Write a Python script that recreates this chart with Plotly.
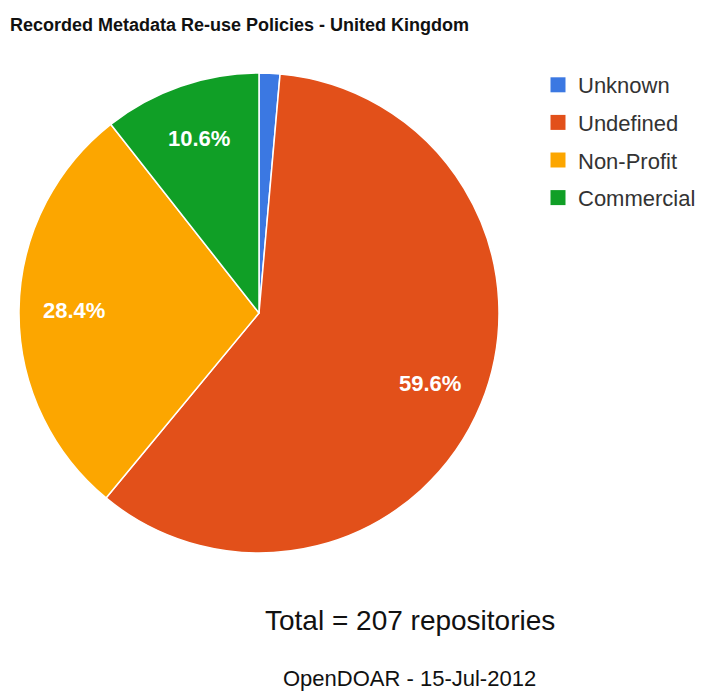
import math
import plotly.graph_objects as go

labels = ["Unknown", "Undefined", "Non-Profit", "Commercial"]
values = [1.4, 59.6, 28.4, 10.6]
shown_text = ["", "59.6%", "28.4%", "10.6%"]
colors = ["#3b78e2", "#e2501a", "#fca600", "#109f26"]

W, H = 706, 693
OFF = 8                      # page body margin shifts the figure by 8px
CX, CY, R = 259, 313, 240    # pie centre / radius in screen pixels
FONT = "Liberation Sans, Arial, sans-serif"


def px_x(x):
    return (x - OFF) / W


def px_y(y):
    return 1 - (y - OFF) / H


fig = go.Figure()
fig.add_trace(go.Pie(
    labels=labels, values=values, sort=False, direction="clockwise", rotation=0,
    marker=dict(colors=colors, line=dict(color="white", width=1.5)),
    textinfo="none", hoverinfo="label+percent", showlegend=False,
    domain=dict(x=[px_x(CX - R), px_x(CX + R)], y=[px_y(CY + R), px_y(CY - R)]),
))

# legend entries (one per slice) so spacing can match
for lab, col in zip(labels, colors):
    fig.add_trace(go.Scatter(
        x=[None], y=[None], mode="markers", name=lab, legendgroup=lab,
        marker=dict(symbol="square", size=15, color=col), hoverinfo="skip",
    ))

# slice labels placed along each slice's mid-angle
total = sum(values)
annotations = []
cum = 0.0
for v, t in zip(values, shown_text):
    mid = (cum + v / 2) / total * 2 * math.pi
    cum += v
    if not t:
        continue
    rr = 0.77 * R
    x = CX + rr * math.sin(mid)
    y = CY - rr * math.cos(mid)
    annotations.append(dict(text=f"<b>{t}</b>", x=px_x(x), y=px_y(y),
                            xref="paper", yref="paper", xanchor="center", yanchor="middle",
                            showarrow=False,
                            font=dict(family=FONT, size=22, color="white")))

annotations += [
    dict(text="Total = 207 repositories", x=px_x(410), y=px_y(620), xref="paper", yref="paper",
         xanchor="center", yanchor="middle",
         showarrow=False, font=dict(family=FONT, size=28, color="#111111")),
    dict(text="OpenDOAR - 15-Jul-2012", x=px_x(410), y=px_y(678), xref="paper", yref="paper",
         xanchor="center", yanchor="middle", borderpad=0,
         showarrow=False, font=dict(family=FONT, size=22, color="#111111")),
]

fig.update_layout(
    width=W, height=H, margin=dict(l=0, r=0, t=0, b=0, pad=0, autoexpand=False),
    paper_bgcolor="white", plot_bgcolor="white",
    font=dict(family=FONT, color="#222222"),
    xaxis=dict(visible=False, domain=[0, 1]), yaxis=dict(visible=False, domain=[0, 1]),
    title=dict(text="<b>Recorded Metadata Re-use Policies - United Kingdom</b>",
               x=2 / W, xanchor="left", y=1 - 17 / H, yanchor="middle",
               font=dict(family=FONT, size=18, color="#111111")),
    legend=dict(x=530 / W, y=1 - 56 / H, xanchor="left", yanchor="top",
                tracegroupgap=6,
                font=dict(family=FONT, size=22, color="#333333"), bgcolor="rgba(0,0,0,0)"),
    annotations=annotations,
)
fig.write_html("out.html")
